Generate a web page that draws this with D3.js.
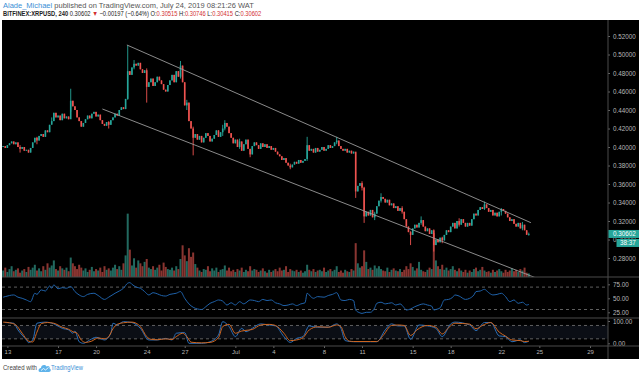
<!DOCTYPE html>
<html>
<head>
<meta charset="utf-8">
<script src="https://cdn.jsdelivr.net/npm/d3@7"></script>
<style>
body { margin: 0; background: #fff; }
svg { display: block; font-family: "Liberation Sans", Arial, sans-serif; }
</style>
</head>
<body>
<div id="chart"></div>
<script>
// XRPUSD 4h candles, close prices in thousandths of a dollar
var closes = [
    401, 399, 402, 404, 406, 403, 405, 400, 398, 400, 396, 397, 394,
    399, 405, 410, 407, 412, 414, 411, 418, 416, 424, 428, 437,
    432, 434, 429, 436, 431, 433, 430,
    450,
    444, 440, 432, 428, 422, 426,
    430, 434, 431, 436, 438, 433, 435, 429,
    425, 423, 427, 424,
    429, 432, 436, 434, 440, 443, 441,
    452, 482, 478,
    486, 490, 488, 491, 484, 480, 483, 465, 470,
    474, 466, 470, 476, 472, 468, 462, 460, 467,
    472, 478, 470, 482, 476,
    488, 470, 445, 448,
    428, 420, 410,
    414, 408, 412, 405, 410, 415, 412, 406, 409, 413, 418, 411, 416,
    420, 426, 422,
    415, 410, 404, 408, 400,
    406, 396, 403, 408, 398, 392, 401, 405,
    402, 398, 404, 400, 403, 399, 401, 397, 399,
    395, 392, 390, 386, 388, 383, 380, 378,
    381, 384, 382, 386, 383, 385, 387,
    402,
    396, 398, 394, 399, 395, 397, 400, 396, 398, 402, 399, 401, 405, 407,
    401, 398, 396, 398, 394, 396, 393, 395,
    352,
    358, 361, 356,
    325,
    330, 326, 332, 324, 328,
    336, 342, 346, 344,
    340, 343, 337, 339, 334, 336, 331, 334, 330,
    322, 314, 308, 305,
    312, 316, 313, 318, 321,
    314, 309, 312, 306, 310,
    294,
    300, 297, 302, 299,
    305, 310, 308, 314, 318, 312, 320, 316, 322, 318,
    314, 318, 315,
    322, 328, 326, 332, 335, 333, 338,
    334, 330, 332, 326, 329, 325, 330,
    333, 331, 328,
    324, 320, 322, 317, 314, 318,
    312, 316, 310,
    305.15, 306.02
];
var firstOpen = 400;
// [bar, high, low] for the bars whose wicks stand out
var wicks = [
    [8, 402, 394], [16, 411, 403], [23, 432, 425], [32, 463, 438], [50, 428, 420],
    [59, 510, 451], [62, 494, 484], [68, 485, 448], [84, 493, 474], [87, 451, 440],
    [90, 422, 391], [104, 424, 412], [105, 429, 418], [112, 409, 398], [117, 398, 389],
    [136, 382, 376], [144, 411, 385], [158, 411, 403], [167, 394, 345], [170, 363, 353],
    [171, 357, 318], [176, 330, 321], [179, 350, 340], [189, 336, 328], [193, 309, 294],
    [198, 325, 316], [204, 311, 287], [208, 303, 296], [216, 323, 314], [228, 341, 332],
    [236, 334, 326], [246, 319, 310], [249, 307.46, 304.15]
];
var volumes = [
    9, 13, 7, 11, 15, 8, 10, 12, 6, 9,
    11, 7, 14, 10, 13, 17, 9, 12, 8, 15,
    10, 19, 13, 16, 23, 11, 9, 15, 12, 10,
    13, 8, 27, 19, 15, 11, 17, 13, 9, 12,
    7, 10, 14, 8, 11, 9, 13, 7, 15, 10,
    12, 9, 13, 17, 11, 15, 10, 19, 30, 88,
    38, 16, 26, 13, 23, 19, 15, 21, 25, 13,
    11, 15, 10, 13, 17, 9, 20, 14, 11, 10,
    13, 9, 15, 11, 25, 44, 30, 22, 40, 28,
    34, 18, 13, 9, 7, 11, 10, 15, 8, 12,
    9, 13, 7, 10, 11, 16, 9, 13, 8, 10,
    7, 11, 9, 13, 7, 10, 8, 15, 9, 11,
    10, 7, 9, 12, 8, 6, 10, 7, 9, 11,
    8, 13, 9, 10, 15, 7, 11, 9, 8, 10,
    7, 9, 6, 8, 17, 10, 8, 11, 7, 9,
    10, 8, 13, 7, 9, 11, 8, 10, 15, 7,
    9, 6, 10, 8, 7, 11, 9, 47, 19, 13,
    15, 37, 21, 11, 13, 10, 16, 12, 15, 11,
    9, 8, 13, 7, 10, 12, 9, 8, 11, 7,
    10, 15, 11, 19, 14, 9, 12, 21, 10, 8,
    7, 10, 13, 11, 61, 23, 15, 11, 17, 10,
    13, 9, 11, 15, 10, 8, 12, 9, 7, 10,
    6, 9, 7, 11, 13, 8, 10, 14, 9, 7,
    8, 6, 10, 7, 9, 11, 8, 6, 10, 7,
    9, 12, 8, 10, 7, 11, 9, 13, 6, 5
];
// [bar, value]
var rsiPoints = [
    [0,52],[1,53],[3,55],[5,56],[7,52],[9,50],[11,47],[13,44],[15,59],[16,57],[18,65],[20,63],
    [22,72],[23,68],[24,74],[26,67],[28,69],[30,68],[32,71],[34,62],[36,56],[38,53],[40,57],
    [43,59],[45,55],[48,48],[50,52],[53,59],[55,63],[57,68],[59,77],[60,78],[61,75],[63,70],
    [65,68],[67,62],[69,56],[71,60],[73,58],[75,55],[77,54],[79,57],[82,59],[84,62],[86,50],
    [88,40],[90,34],[92,31],[94,30],[96,35],[98,41],[100,44],[102,47],[104,45],[106,38],
    [108,42],[110,38],[112,44],[114,40],[115,42],[117,47],[119,46],[121,44],[123,48],[125,46],
    [127,47],[129,42],[131,40],[133,37],[135,38],[137,40],[139,37],[141,40],[143,42],[144,59],
    [146,52],[147,50],[149,53],[152,52],[154,55],[156,57],[158,60],[160,47],[162,46],[164,48],
    [166,46],[167,29],[169,24],[170,23],[172,25],[174,25],[176,33],[177,41],[179,43],[181,40],
    [184,42],[186,38],[188,40],[190,33],[191,29],[193,31],[195,35],[197,38],[199,40],[201,38],
    [203,36],[204,29],[205,30],[207,33],[209,47],[211,48],[213,52],[214,56],[216,54],[219,48],
    [221,50],[223,56],[224,62],[226,63],[228,66],[230,60],[232,56],[234,57],[236,59],[238,53],
    [240,44],[242,47],[244,41],[246,43],[248,38],[249,39]
];
var stochK = [
    [1,93],[5,90],[7,60],[11,15],[12,3],[14,15],[16,90],[20,95],[24,87],[28,67],[31,60],[33,45],
    [34,55],[36,7],[38,0],[41,15],[44,27],[48,15],[51,45],[52,90],[54,83],[57,97],[61,93],
    [65,67],[69,15],[73,15],[77,22],[80,15],[82,45],[86,48],[88,0],[94,0],[98,7],[102,37],
    [104,97],[107,75],[110,30],[113,67],[115,52],[118,67],[122,87],[126,82],[129,78],[133,30],
    [136,4],[139,22],[142,30],[145,78],[149,72],[154,72],[158,87],[160,67],[162,12],[166,7],
    [174,7],[177,7],[181,60],[184,87],[187,78],[190,78],[193,18],[197,82],[201,78],[205,67],
    [208,30],[212,87],[214,95],[221,82],[224,57],[228,93],[231,93],[235,33],[238,30],[241,7],
    [245,15],[247,3],[249,10]
];
var stochD = [
    [0,95],[3,92],[6,82],[9,45],[12,10],[14,6],[16,50],[18,88],[21,93],[24,90],[28,72],[31,63],
    [33,52],[35,45],[37,15],[39,4],[42,10],[45,24],[48,20],[50,30],[52,65],[54,85],[57,92],
    [61,95],[65,75],[68,30],[70,18],[73,16],[77,20],[80,17],[82,30],[85,45],[87,30],[89,5],
    [94,2],[98,4],[102,25],[104,75],[107,85],[110,45],[113,55],[115,58],[118,62],[122,82],
    [126,85],[129,80],[133,45],[136,12],[139,15],[142,25],[145,60],[149,74],[154,72],[158,82],
    [160,75],[162,30],[164,10],[166,8],[174,8],[177,8],[180,35],[184,80],[187,82],[190,80],
    [193,35],[196,60],[201,80],[205,72],[208,42],[211,70],[214,90],[221,86],[224,65],[227,80],
    [231,93],[235,50],[238,32],[241,15],[245,12],[247,8],[249,9]
];
// channel drawn on the chart, [bar, price]
var channelUpper = [[58.6, 510.3], [250, 318.2]];
var channelLower = [[47, 441.1], [262, 250]];

var priceTicks = [280, 300, 320, 340, 360, 380, 400, 420, 440, 460, 480, 500, 520];
var rsiTicks = [25, 50, 75];
var rsiLevels = [30, 70];
var stochTicks = [0, 100];
var stochLevels = [20, 80];
var timeTicks = [
    [2019, 5, 13, "13"], [2019, 5, 17, "17"], [2019, 5, 20, "20"], [2019, 5, 24, "24"],
    [2019, 5, 27, "27"], [2019, 6, 1, "Jul"], [2019, 6, 4, "4"], [2019, 6, 8, "8"],
    [2019, 6, 11, "11"], [2019, 6, 15, "15"], [2019, 6, 18, "18"], [2019, 6, 22, "22"],
    [2019, 6, 25, "25"], [2019, 6, 29, "29"]
];

var W = 640, H = 376;
var plotLeft = 2, plotRight = 608, frameRight = 639;
var mainTop = 20, mainBottom = 277, rsiBottom = 318, stochBottom = 346, frameBottom = 359;
var upColor = "#26a69a", downColor = "#ef5350";
var upVol = "#22695f", downVol = "#8a3531";
var axisText = "#b8b8b8";

var svg = d3.select("#chart").append("svg").attr("width", W).attr("height", H);

function BarDate(i) {
    return new Date(Date.UTC(2019, 5, 12, 16) + i * 4 * 3600 * 1000);
}

var x = d3.scaleUtc()
    .domain([new Date(Date.UTC(2019, 5, 13)), new Date(Date.UTC(2019, 6, 29))])
    .range([7.4, 590]);
var y = d3.scaleLinear().domain([259.5, 537.3]).range([mainBottom, mainTop]);
var yVol = d3.scaleLinear().domain([0, 100]).range([mainBottom, 205]);
var yRsi = d3.scaleLinear().domain([25, 75]).range([312.3, 284.3]);
var yStoch = d3.scaleLinear().domain([0, 100]).range([343.3, 321]);

function AddClip(id, top, bottom) {
    svg.append("clipPath").attr("id", id).append("rect")
        .attr("x", plotLeft).attr("y", top)
        .attr("width", plotRight - plotLeft).attr("height", bottom - top);
}

// squeeze a text line horizontally to the width it has in the picture
function FitLine(g, width) {
    var w = g.node().getBBox().width;
    var tx = g.attr("data-x"), ty = g.attr("data-y");
    g.attr("transform", "translate(" + tx + "," + ty + ") scale(" + (width / w) + ",1)");
}

function DrawHeader() {
    var g1 = svg.append("g").attr("data-x", 3).attr("data-y", 7.6);
    var t1 = g1.append("text").attr("font-size", 7);
    t1.append("tspan").attr("fill", "#3a8fd6").text("Alade_Michael");
    t1.append("tspan").attr("fill", "#555").text(" published on TradingView.com, July 24, 2019 08:21:26 WAT");
    FitLine(g1, 252);

    var g2 = svg.append("g").attr("data-x", 3).attr("data-y", 15.6);
    var t2 = g2.append("text").attr("font-size", 7).attr("fill", "#222");
    t2.append("tspan").attr("font-weight", "bold").text("BITFINEX:XRPUSD, 240");
    t2.append("tspan").text(" 0.30602 ");
    t2.append("tspan").attr("fill", "#d32f2f").text("▼");
    t2.append("tspan").text(" −0.00197 (−0.64%) O:");
    t2.append("tspan").attr("fill", "#d32f2f").text("0.30515");
    t2.append("tspan").text(" H:");
    t2.append("tspan").attr("fill", "#d32f2f").text("0.30746");
    t2.append("tspan").text(" L:");
    t2.append("tspan").attr("fill", "#d32f2f").text("0.30415");
    t2.append("tspan").text(" C:");
    t2.append("tspan").attr("fill", "#d32f2f").text("0.30602");
    FitLine(g2, 259);
}

function DrawFrame() {
    svg.append("rect").attr("x", plotLeft).attr("y", mainTop)
        .attr("width", frameRight - plotLeft).attr("height", frameBottom - mainTop)
        .attr("fill", "#000");
    // stochastic band
    svg.append("rect").attr("x", plotLeft).attr("y", yStoch(stochLevels[1]))
        .attr("width", plotRight - plotLeft)
        .attr("height", yStoch(stochLevels[0]) - yStoch(stochLevels[1]))
        .attr("fill", "#0b0e15");
}

function DrawVolume() {
    var g = svg.append("g").attr("clip-path", "url(#clipMain)");
    g.selectAll("rect.vol").data(volumes).enter().append("rect")
        .attr("class", "vol")
        .attr("x", function(d, i) { return x(BarDate(i)) - 1; })
        .attr("width", 2)
        .attr("y", function(d) { return yVol(d); })
        .attr("height", function(d) { return mainBottom - yVol(d); })
        .attr("fill", function(d, i) {
            var o = i ? closes[i - 1] : firstOpen;
            return closes[i] >= o ? upVol : downVol;
        });
}

function DrawCandles() {
    var wickMap = {};
    wicks.forEach(function(w) { wickMap[w[0]] = w; });
    var bars = closes.map(function(c, i) {
        var o = i ? closes[i - 1] : firstOpen;
        var w = wickMap[i];
        return {
            i: i, o: o, c: c,
            h: w ? w[1] : Math.max(o, c),
            l: w ? w[2] : Math.min(o, c)
        };
    });
    var g = svg.append("g").attr("clip-path", "url(#clipMain)");
    g.selectAll("line.wick").data(bars).enter().append("line")
        .attr("class", "wick")
        .attr("x1", function(d) { return x(BarDate(d.i)); })
        .attr("x2", function(d) { return x(BarDate(d.i)); })
        .attr("y1", function(d) { return y(d.h); })
        .attr("y2", function(d) { return y(d.l); })
        .attr("stroke", function(d) { return d.c >= d.o ? upColor : downColor; })
        .attr("stroke-width", 0.9);
    g.selectAll("rect.body").data(bars).enter().append("rect")
        .attr("class", "body")
        .attr("x", function(d) { return x(BarDate(d.i)) - 0.8; })
        .attr("width", 1.6)
        .attr("y", function(d) { return y(Math.max(d.o, d.c)); })
        .attr("height", function(d) { return Math.max(0.8, Math.abs(y(d.o) - y(d.c))); })
        .attr("fill", function(d) { return d.c >= d.o ? upColor : downColor; });
}

function DrawChannel() {
    var g = svg.append("g").attr("clip-path", "url(#clipMain)");
    [channelUpper, channelLower].forEach(function(line) {
        g.append("line")
            .attr("x1", x(BarDate(line[0][0]))).attr("y1", y(line[0][1]))
            .attr("x2", x(BarDate(line[1][0]))).attr("y2", y(line[1][1]))
            .attr("stroke", "#9a9a9a").attr("stroke-width", 0.9);
    });
}

function DrawOscillator(points, scale, color, clipId) {
    var line = d3.line()
        .x(function(d) { return x(BarDate(d[0])); })
        .y(function(d) { return scale(d[1]); })
        .curve(d3.curveMonotoneX);
    svg.append("path").datum(points)
        .attr("clip-path", "url(#" + clipId + ")")
        .attr("d", line)
        .attr("fill", "none")
        .attr("stroke", color)
        .attr("stroke-width", 1);
}

function DrawLevels(levels, scale) {
    levels.forEach(function(v) {
        svg.append("line")
            .attr("x1", plotLeft).attr("x2", plotRight)
            .attr("y1", scale(v)).attr("y2", scale(v))
            .attr("stroke", "#777").attr("stroke-width", 0.8)
            .attr("stroke-dasharray", "3,3");
    });
}

function StyleAxis(g) {
    g.select(".domain").remove();
    g.selectAll(".tick line").attr("stroke", "#666");
    g.selectAll(".tick text").attr("fill", axisText).attr("font-size", 6.3)
        .attr("font-family", "'Liberation Sans', Arial, sans-serif");
}

function DrawAxes() {
    var gp = svg.append("g").attr("transform", "translate(" + plotRight + ",0)")
        .call(d3.axisRight(y).tickValues(priceTicks).tickSize(2).tickPadding(3)
            .tickFormat(function(d) { return (d / 1000).toFixed(5); }));
    StyleAxis(gp);
    var gr = svg.append("g").attr("transform", "translate(" + plotRight + ",0)")
        .call(d3.axisRight(yRsi).tickValues(rsiTicks).tickSize(2).tickPadding(3)
            .tickFormat(d3.format(".2f")));
    StyleAxis(gr);
    var gs = svg.append("g").attr("transform", "translate(" + plotRight + ",0)")
        .call(d3.axisRight(yStoch).tickValues(stochTicks).tickSize(2).tickPadding(3)
            .tickFormat(d3.format(".2f")));
    StyleAxis(gs);

    var labels = {};
    var dates = timeTicks.map(function(t) {
        var d = new Date(Date.UTC(t[0], t[1], t[2]));
        labels[+d] = t[3];
        return d;
    });
    var gt = svg.append("g").attr("transform", "translate(0," + stochBottom + ")")
        .call(d3.axisBottom(x).tickValues(dates).tickSize(2).tickPadding(2)
            .tickFormat(function(d) { return labels[+d]; }));
    StyleAxis(gt);
    gt.selectAll(".tick text").attr("font-size", 6);
}

function DrawSeparators() {
    [mainBottom, rsiBottom, stochBottom].forEach(function(yy) {
        svg.append("line").attr("x1", plotLeft).attr("x2", frameRight)
            .attr("y1", yy).attr("y2", yy)
            .attr("stroke", "#4a4a4a").attr("stroke-width", 1);
    });
    svg.append("line").attr("x1", plotRight).attr("x2", plotRight)
        .attr("y1", mainTop).attr("y2", frameBottom)
        .attr("stroke", "#4a4a4a").attr("stroke-width", 1);
}

function DrawPriceLabel() {
    var last = closes[closes.length - 1];
    var py = y(last);
    svg.append("rect").attr("x", plotRight + 0.5).attr("y", py - 4)
        .attr("width", frameRight - plotRight - 0.5).attr("height", 8).attr("fill", upColor);
    svg.append("text").attr("x", plotRight + 5).attr("y", py + 2.2)
        .attr("font-size", 6.3).attr("fill", "#fff").text((last / 1000).toFixed(5));
    svg.append("rect").attr("x", 616.5).attr("y", py + 5)
        .attr("width", frameRight - 616.5).attr("height", 8).attr("fill", upColor);
    svg.append("text").attr("x", 620).attr("y", py + 11.2)
        .attr("font-size", 6.3).attr("fill", "#fff").text("38:37");
}

function DrawFooter() {
    svg.append("text").attr("x", 3).attr("y", 370).attr("font-size", 6.5)
        .attr("fill", "#444").attr("textLength", 34).attr("lengthAdjust", "spacingAndGlyphs")
        .text("Created with");
    var logo = svg.append("g").attr("transform", "translate(39,364)");
    logo.append("path")
        .attr("d", "M1,8 C-1,8 -1,4 2,4 C2,1 6,0 7.5,2.5 C9,1 11.5,2.5 10.5,4.5 C12.5,5 12,8 10,8 Z")
        .attr("fill", "#5fb3ea");
    logo.append("path").attr("d", "M2,6.5 L4.5,4.5 L6.5,6 L9.5,3.5")
        .attr("fill", "none").attr("stroke", "#fff").attr("stroke-width", 0.8);
    svg.append("text").attr("x", 51).attr("y", 370).attr("font-size", 6.8)
        .attr("fill", "#3a8fd6").attr("textLength", 32).attr("lengthAdjust", "spacingAndGlyphs")
        .text("TradingView");
}

AddClip("clipMain", mainTop, mainBottom);
AddClip("clipRsi", mainBottom, rsiBottom);
AddClip("clipStoch", rsiBottom, stochBottom);
DrawHeader();
DrawFrame();
DrawVolume();
DrawCandles();
DrawChannel();
DrawLevels(rsiLevels, yRsi);
DrawLevels(stochLevels, yStoch);
DrawOscillator(rsiPoints, yRsi, "#1f62aa", "clipRsi");
DrawOscillator(stochK, yStoch, "#2a70bb", "clipStoch");
DrawOscillator(stochD, yStoch, "#d0661f", "clipStoch");
DrawAxes();
DrawSeparators();
DrawPriceLabel();
DrawFooter();
</script>
</body>
</html>
